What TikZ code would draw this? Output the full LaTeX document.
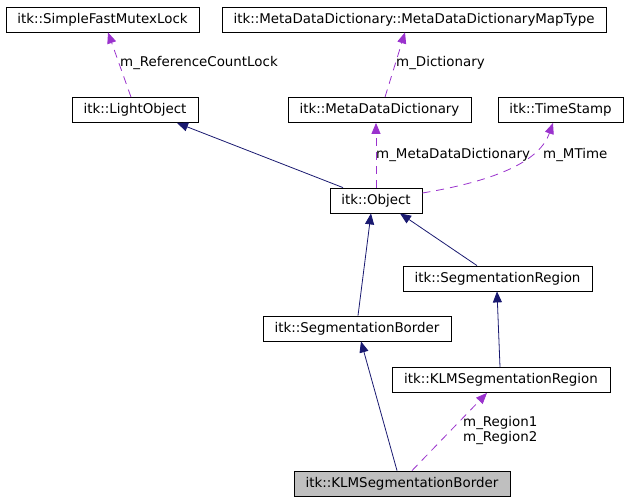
\documentclass[tikz,border=0pt]{standalone}
\usepackage{fontspec}
\setmainfont{DejaVu Sans}
\usetikzlibrary{arrows.meta}
\definecolor{inhcol}{HTML}{191970}
\definecolor{usecol}{HTML}{9A32CD}
\tikzset{
	cls/.style={draw, line width=0.8pt, minimum height=25pt, inner sep=0pt, font=\fontsize{13.4}{15}\selectfont},
	inh/.style={draw=inhcol, line width=0.8pt, -{Triangle[length=11pt,width=9pt,fill=inhcol]}},
	use/.style={draw=usecol, line width=0.8pt, dash pattern=on 8pt off 6pt, -{Triangle[length=11pt,width=9pt,fill=usecol]}},
	lbl/.style={anchor=west, inner sep=0pt, font=\fontsize{13.4}{15}\selectfont}
}
\begin{document}
\begin{tikzpicture}[x=1pt, y=-1pt]
				\useasboundingbox (0, 0) rectangle (631, 501);
				
				\node[cls, minimum width=193pt] (mutex) at (102.5, 19.5) {itk::SimpleFastMutexLock};
				\node[cls, minimum width=384pt] (maptype) at (414, 19.5) {itk::MetaDataDictionary::MetaDataDictionaryMapType};
				\node[cls, minimum width=126pt] (light) at (135, 110) {itk::LightObject};
				\node[cls, minimum width=183pt] (mdd) at (379.5, 110) {itk::MetaDataDictionary};
				\node[cls, minimum width=125pt] (stamp) at (560.5, 110) {itk::TimeStamp};
				\node[cls, minimum width=92pt] (obj) at (376, 200.5) {itk::Object};
				\node[cls, minimum width=189pt] (segreg) at (497.5, 278.5) {itk::SegmentationRegion};
				\node[cls, minimum width=188pt] (segbor) at (357, 328.5) {itk::SegmentationBorder};
				\node[cls, minimum width=218pt] (klmreg) at (501, 380) {itk::KLMSegmentationRegion};
				\node[cls, minimum width=216pt, fill=black!25] (klmbor) at (402, 483.5) {itk::KLMSegmentationBorder};
				
				\draw[use] ([xshift=-4pt]light.north) -- ([xshift=5.5pt]mutex.south);
				\node[lbl] (reflbl) at (120, 63) {m\_ReferenceCountLock};
				
				\draw[use] ([xshift=5.5pt]mdd.north) -- ([xshift=-9pt]maptype.south);
				\node[lbl] (dictlbl) at (396, 63) {m\_Dictionary};
				
				\draw[inh] ([xshift=-33pt]obj.north) -- ([xshift=42pt]light.south);
				
				\draw[use] (obj.north) -- ([xshift=-3.5pt]mdd.south);
				\node[lbl] (mddlbl) at (376, 155) {m\_MetaDataDictionary};
				
				\draw[use] ([yshift=7.5pt]obj.east) .. controls (500, 180) and (540, 160) .. ([xshift=-7.5pt]stamp.south);
				\node[lbl] (mtimelbl) at (543, 155) {m\_MTime};
				
				\draw[inh] ([xshift=1pt]segbor.north) -- ([xshift=-5pt]obj.south);
				\draw[inh] ([xshift=-20.5pt]segreg.north) -- ([xshift=24pt]obj.south);
				\draw[inh] ([xshift=-1pt]klmreg.north) -- ([xshift=-0.5pt]segreg.south);
				\draw[inh] ([xshift=-5pt]klmbor.north) -- ([xshift=4pt]segbor.south);
				
				\draw[use] ([xshift=10pt]klmbor.north) -- ([xshift=-14pt]klmreg.south);
				\node[lbl, align=left] (reglbl) at (463, 430.5) {m\_Region1\\m\_Region2};
			\end{tikzpicture}
\end{document}
